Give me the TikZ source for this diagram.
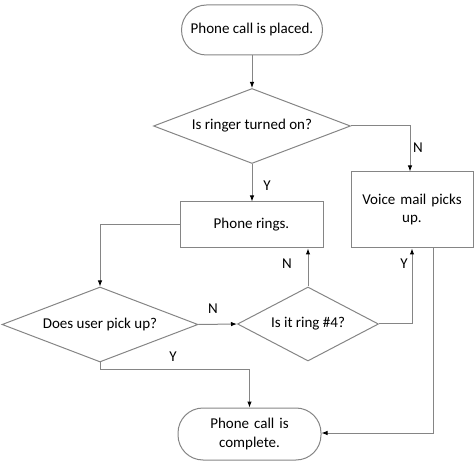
\documentclass[tikz,border=0pt]{standalone}
\usepackage{fontspec}
\setmainfont{Carlito}
\usetikzlibrary{shapes.geometric,arrows.meta}
\definecolor{lin}{HTML}{858585}
\tikzset{
  every node/.style={font=\fontsize{15}{18}\selectfont, text=black},
  term/.style={draw=lin, line width=1pt, rectangle, rounded corners=25pt, inner sep=0pt, align=center},
  procbox/.style={draw=lin, line width=1pt, rectangle, inner sep=0pt, align=center},
  decis/.style={draw=lin, line width=1pt, diamond, inner sep=0pt, aspect=2.6},
  conn/.style={draw=lin, line width=1pt, -{Latex[length=6pt,width=4.5pt,black]}},
  lbl/.style={inner sep=0pt}
}
\begin{document}
\begin{tikzpicture}[x=1pt,y=-1pt]
\useasboundingbox (0,0) rectangle (474,462);
\node[term, minimum width=141pt, minimum height=50pt] (start) at (252,30) {Phone call is placed.};
\node[decis, minimum width=197pt, minimum height=75pt] (ringer) at (252,126) {Is ringer turned on?};
\node[procbox, minimum width=143pt, minimum height=46pt] (rings) at (251.5,225) {Phone rings.};
\node[procbox, minimum width=122pt, minimum height=76pt, text width=112pt] (vmail) at (412,210) {Voice mail picks\\up.};
\node[decis, minimum width=196pt, minimum height=75pt] (pick) at (100,324.5) {Does user pick up?};
\node[decis, minimum width=141pt, minimum height=74pt] (ring4) at (308,324) {Is it ring \#4?};
\node[term, minimum width=143pt, minimum height=52pt, text width=120pt] (done) at (249.5,434) {Phone call is\\complete.};

\coordinate (c1) at (410,126);
\coordinate (c2) at (100,225);
\coordinate (c3) at (412,324);
\coordinate (c4) at (433,248);
\coordinate (c5) at (433,433);
\coordinate (c6) at (100,369);
\coordinate (c7) at (249.5,369);

\draw[conn] (start.south) -- (ringer.north);
\draw[conn] (ringer.south) -- (ringer.south |- rings.north);
\draw[conn] (ringer.east) -- (c1) -- (c1 |- vmail.north);
\draw[conn] (rings.west) -- (c2) -- (pick.north);
\draw[conn] (pick.east) -- (ring4.west);
\draw[conn] (ring4.north) -- (ring4.north |- rings.south);
\draw[conn] (ring4.east) -- (c3) -- (c3 |- vmail.south);
\draw[conn] (c4) -- (c5) -- (done.east |- c5);
\draw[conn] (pick.south) -- (c6) -- (c7) -- (done.north);

\node[lbl] (ly1) at (267,186) {Y};
\node[lbl] (ln1) at (418,148) {N};
\node[lbl] (ln2) at (213,309) {N};
\node[lbl] (ln3) at (287,264) {N};
\node[lbl] (ly2) at (404,264) {Y};
\node[lbl] (ly3) at (173,357) {Y};
\end{tikzpicture}
\end{document}
